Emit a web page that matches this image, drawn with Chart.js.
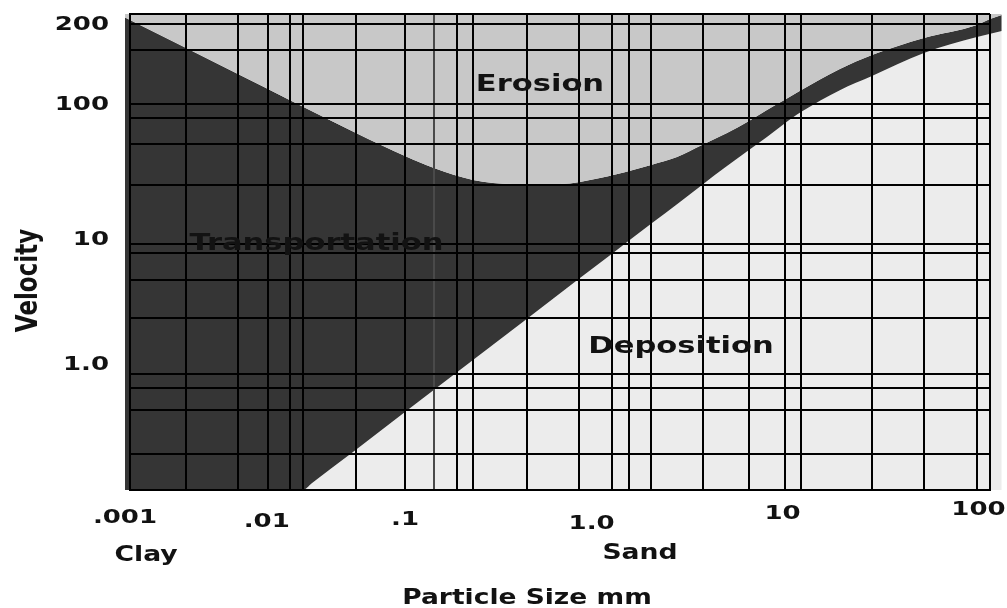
<!DOCTYPE html>
<html>
<head>
<meta charset="utf-8">
<script src="https://cdn.jsdelivr.net/npm/chart.js@4.4.1/dist/chart.umd.min.js"></script>
<style>
  html, body { margin: 0; padding: 0; background: #ffffff; }
  canvas { display: block; }
</style>
</head>
<body>
<canvas id="chart" width="1007" height="608"></canvas>
<script>
// ---- Data: particle size (mm) and flow velocity ----
const erosionSize = [0.000935, 0.001, 0.00212, 0.00424, 0.00852, 0.0206, 0.0397, 0.0585, 0.0987, 0.1685, 0.316, 0.540, 0.840, 1.07, 1.514, 2.117, 2.958, 3.97, 5.05, 6.34, 7.96, 13.4, 20.6, 41.3, 84.0, 100, 117];
const erosionVelocity = [470, 449, 272, 171, 107, 59.5, 39.4, 31.8, 25.7, 23.9, 23.9, 26.6, 30.7, 33.6, 38.7, 48.0, 59.5, 73.7, 89.8, 107, 128, 187, 240, 326, 411, 457, 491];

const depositionSize = [0.000935, 0.0101, 0.0114, 0.0198, 0.0397, 0.0987, 0.2061, 0.4133, 0.643, 1.07, 1.576, 2.117, 2.958, 3.97, 5.05, 6.34, 7.96, 13.4, 20.6, 41.3, 84.0, 117];
const depositionVelocity = [0.1, 0.1, 0.113, 0.197, 0.404, 1.024, 2.17, 4.44, 6.95, 11.7, 17.3, 23.5, 32.9, 43.9, 55.4, 69.9, 86.6, 128, 165, 249, 331, 369];

// grid lines of the diagram
const sizeGrid = [0.00212, 0.00425, 0.00634, 0.00851, 0.0101, 0.0206, 0.0397, 0.0585, 0.0796, 0.0986, 0.203, 0.407, 0.634, 0.796, 1.07, 2.14, 3.97, 6.43, 7.96, 20.6, 41.3, 84.0, 100];
const velocityGrid = [0.1905, 0.418, 0.620, 0.797, 2.17, 4.29, 6.95, 8.16, 23.5, 48.9, 77.8, 100, 263, 418, 500];
const fadedSizeLine = 0.0585;

// tick labels and where they sit on the scales
const sizeTickLabels = ['.001', '.01', '.1', '1.0', '10', '100'];
const sizeTickAt = [0.000935, 0.00624, 0.0397, 0.483, 6.22, 85.7];
const velocityTickLabels = ['200', '100', '10', '1.0'];
const velocityTickAt = [414, 98, 8.84, 0.935];

// region names and particle classes
const regionLabels = ['Erosion', 'Transportation', 'Deposition'];
const regionSize = [0.2418, 0.01214, 1.598];
const regionVelocity = [126, 7.33, 1.16];
const classLabels = ['Clay', 'Sand'];
const classSize = [0.00124, 0.923];

const xTitle = 'Particle Size mm';
const yTitle = 'Velocity';

// ---- Styling ----
const STRETCH = 1.3;
const FONT = '"DejaVu Sans", Verdana, sans-serif';
const TEXT_COLOR = '#121212';
const sizeTickDrop = [33, 37, 35, 39, 29, 25];
const classDrop = [71, 69];

function toPoints(xs, ys) { return xs.map((v, i) => ({ x: v, y: ys[i] })); }

function stretchedText(ctx, text, x, y, size, align, baseline, rotate) {
  ctx.save();
  ctx.translate(x, y);
  if (rotate) { ctx.rotate(rotate); ctx.scale(1, STRETCH); }
  else { ctx.scale(STRETCH, 1); }
  ctx.font = 'bold ' + size + 'px ' + FONT;
  ctx.fillStyle = TEXT_COLOR;
  ctx.textAlign = align;
  ctx.textBaseline = baseline;
  ctx.fillText(text, 0, 0);
  ctx.restore();
}

// lets the shaded regions run a few pixels past the grid frame, as in the original
const overflowPlugin = {
  id: 'overflow',
  beforeDatasetsDraw(chart) {
    const a = chart.chartArea;
    chart.$savedArea = { left: a.left, right: a.right };
    a.left -= 5;
    a.right += 12;
  },
  afterDatasetsDraw(chart) {
    Object.assign(chart.chartArea, chart.$savedArea);
  }
};

const textPlugin = {
  id: 'diagramText',
  afterDraw(chart) {
    const { ctx, chartArea: area } = chart;
    const xs = chart.scales.x, ys = chart.scales.y;
    regionLabels.forEach((t, i) => stretchedText(ctx, t, xs.getPixelForValue(regionSize[i]), ys.getPixelForValue(regionVelocity[i]), 23.5, 'center', 'alphabetic'));
    velocityTickLabels.forEach((t, i) => stretchedText(ctx, t, area.left - 21, ys.getPixelForValue(velocityTickAt[i]), 20, 'right', 'middle'));
    sizeTickLabels.forEach((t, i) => stretchedText(ctx, t, xs.getPixelForValue(sizeTickAt[i]), area.bottom + sizeTickDrop[i], 20, 'center', 'alphabetic'));
    classLabels.forEach((t, i) => stretchedText(ctx, t, xs.getPixelForValue(classSize[i]), area.bottom + classDrop[i], 20.5, 'center', 'alphabetic'));
    stretchedText(ctx, xTitle, 527, area.bottom + 114, 20.4, 'center', 'alphabetic');
    stretchedText(ctx, yTitle, 37, (area.top + area.bottom) / 2 + 28.5, 23, 'center', 'alphabetic', -Math.PI / 2);
  }
};

const common = {
  borderWidth: 0,
  borderColor: 'transparent',
  pointRadius: 0,
  pointHoverRadius: 0,
  cubicInterpolationMode: 'monotone',
  clip: { left: 6, top: 0, right: 13, bottom: 0 }
};

new Chart(document.getElementById('chart'), {
  type: 'line',
  data: {
    datasets: [
      Object.assign({ label: 'Erosion', data: toPoints(erosionSize, erosionVelocity), fill: 'end', backgroundColor: '#c8c8c8' }, common),
      Object.assign({ label: 'Transportation', data: toPoints(erosionSize, erosionVelocity), fill: 2, backgroundColor: '#353535' }, common),
      Object.assign({ label: 'Deposition', data: toPoints(depositionSize, depositionVelocity), fill: 'start', backgroundColor: '#ececec' }, common)
    ]
  },
  options: {
    responsive: false,
    animation: false,
    devicePixelRatio: 1,
    events: [],
    layout: { padding: { top: 14, right: 17, bottom: 0, left: 0 }, autoPadding: false },
    elements: { line: { capBezierPoints: false } },
    plugins: { legend: { display: false }, tooltip: { enabled: false }, title: { display: false } },
    scales: {
      x: {
        type: 'logarithmic',
        min: 0.001,
        max: 100,
        bounds: 'data',
        afterBuildTicks: (s) => { s.ticks = sizeGrid.map(v => ({ value: v })); },
        afterFit: (s) => { s.height = 118; },
        ticks: { display: false, autoSkip: false },
        grid: {
          drawTicks: false,
          lineWidth: 2,
          z: 1,
          color: (c) => (c.tick && c.tick.value === fadedSizeLine) ? '#4a4a4a' : '#000000'
        },
        border: { display: true, color: '#000000', width: 2, z: 1 },
        title: { display: false }
      },
      y: {
        type: 'logarithmic',
        min: 0.1,
        max: 500,
        bounds: 'data',
        afterBuildTicks: (s) => { s.ticks = velocityGrid.map(v => ({ value: v })); },
        afterFit: (s) => { s.width = 130; },
        ticks: { display: false, autoSkip: false },
        grid: { drawTicks: false, lineWidth: 2, z: 1, color: '#000000' },
        border: { display: true, color: '#000000', width: 2, z: 1 },
        title: { display: false }
      }
    }
  },
  plugins: [overflowPlugin, textPlugin]
});
</script>
</body>
</html>
